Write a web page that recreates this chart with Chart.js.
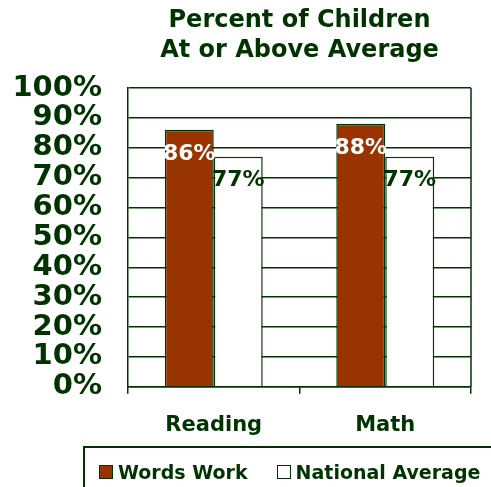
<!DOCTYPE html>
<html>
<head>
<meta charset="utf-8">
<script src="https://cdn.jsdelivr.net/npm/chart.js@4"></script>
<style>
  html, body { margin: 0; padding: 0; background: #fff; overflow: hidden; }
  #wrap { position: relative; width: 491px; height: 487px; }
  #legendBox {
    position: absolute; left: 83px; top: 446px; width: 440px; height: 60px;
    border: 2px solid #003300; box-sizing: border-box;
    display: flex; align-items: flex-start; padding: 13px 0 0 14px;
    font-family: "DejaVu Sans", Verdana, sans-serif; font-weight: bold;
    font-size: 19px; color: #003300;
  }
  .item { display: flex; align-items: center; margin-right: 29px; line-height: 22px; }
  .swatch { width: 14px; height: 14px; border: 1.5px solid #003300; box-sizing: border-box; margin-right: 5px; }
</style>
</head>
<body>
<div id="wrap">
  <canvas id="chart" width="491" height="487"></canvas>
  <div id="legendBox"></div>
</div>
<script>
// DATA
const categories = ["Reading", "Math"];
const wordsWork = [86, 88];
const nationalAverage = [77, 77];
const seriesNames = ["Words Work", "National Average"];
const yTickValues = [0, 10, 20, 30, 40, 50, 60, 70, 80, 90, 100];

const GREEN = "#003300";
const BROWN = "#993300";
const FONT = "'DejaVu Sans', Verdana, sans-serif";

// value labels drawn just under the top of each bar
const valueLabels = {
    id: "valueLabels",
    afterDatasetsDraw(chart) {
        const c = chart.ctx;
        c.save();
        c.font = "bold 22px " + FONT;
        c.textAlign = "center";
        c.textBaseline = "middle";
        chart.data.datasets.forEach((ds, i) => {
            const meta = chart.getDatasetMeta(i);
            c.fillStyle = ds.labelColor;
            meta.data.forEach((bar, j) => {
                c.fillText(ds.data[j] + "%", bar.x, bar.y + 24);
            });
        });
        c.restore();
    }
};

// right edge of the plot frame
const frameRight = {
    id: "frameRight",
    beforeDatasetsDraw(chart) {
        const a = chart.chartArea;
        const c = chart.ctx;
        c.save();
        c.strokeStyle = GREEN;
        c.lineWidth = 1.5;
        c.beginPath();
        c.moveTo(a.right, a.top);
        c.lineTo(a.right, a.bottom);
        c.stroke();
        c.restore();
    }
};

const chart = new Chart(document.getElementById("chart"), {
    type: "bar",
    data: {
        labels: categories,
        datasets: [
            {
                label: seriesNames[0],
                data: wordsWork,
                backgroundColor: BROWN,
                borderColor: GREEN,
                borderWidth: 1.5,
                labelColor: "#ffffff"
            },
            {
                label: seriesNames[1],
                data: nationalAverage,
                backgroundColor: "#ffffff",
                borderColor: GREEN,
                borderWidth: 1.5,
                labelColor: GREEN
            }
        ]
    },
    options: {
        responsive: false,
        animation: false,
        categoryPercentage: 0.571,
        barPercentage: 1,
        layout: { padding: { left: 12, right: 20, top: 0, bottom: 30 } },
        plugins: {
            legend: { display: false },
            tooltip: { enabled: false },
            title: {
                display: true,
                fullSize: false,
                text: ["Percent of Children", "At or Above Average"],
                color: GREEN,
                font: { family: FONT, size: 24, weight: "bold", lineHeight: 1.25 },
                padding: { top: 6, bottom: 22 }
            }
        },
        scales: {
            x: {
                grid: {
                    offset: true,
                    drawOnChartArea: false,
                    tickLength: 7,
                    color: GREEN,
                    lineWidth: 1.5
                },
                border: { display: true, color: GREEN, width: 1.5 },
                ticks: {
                    color: GREEN,
                    padding: 19,
                    font: { family: FONT, size: 21, weight: "bold" }
                }
            },
            y: {
                min: 0,
                max: 100,
                afterBuildTicks(axis) {
                    axis.ticks = yTickValues.map(v => ({ value: v }));
                },
                afterFit(axis) {
                    axis.width = 116;
                },
                grid: {
                    color: GREEN,
                    lineWidth: 1.5,
                    drawTicks: false,
                    tickLength: 0
                },
                border: { display: true, color: GREEN, width: 1.5 },
                ticks: {
                    autoSkip: false,
                    color: GREEN,
                    padding: 26,
                    font: { family: FONT, size: 29, weight: "bold" },
                    callback: v => v + "%"
                }
            }
        }
    },
    plugins: [valueLabels, frameRight]
});

// LEGEND
const legendBox = document.getElementById("legendBox");
chart.data.datasets.forEach(ds => {
    const item = document.createElement("div");
    item.className = "item";
    const sw = document.createElement("span");
    sw.className = "swatch";
    sw.style.background = ds.backgroundColor;
    const txt = document.createElement("span");
    txt.textContent = ds.label;
    item.appendChild(sw);
    item.appendChild(txt);
    legendBox.appendChild(item);
});
</script>
</body>
</html>
